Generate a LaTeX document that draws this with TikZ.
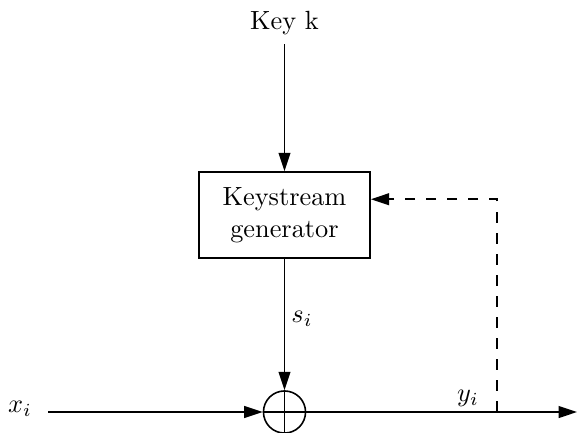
\documentclass[tikz,border=0pt]{standalone}
\usepackage{tikz}
\usetikzlibrary{positioning, arrows.meta}

\begin{document}
\begin{tikzpicture}[
    x=0.38pt, y=-0.38pt,
    block/.style={draw, semithick, minimum width=65pt, minimum height=32.7pt,
                  inner sep=0pt, align=center},
    adder/.style={draw, semithick, circle, minimum size=16pt, inner sep=0pt},
    arr/.style={-{Triangle[length=7pt, width=4.5pt]}, semithick},
    lbl/.style={inner sep=0pt},
]
\useasboundingbox (0,0) rectangle (577,432);

% Key input and generator
\node (key) at (284.5,23) {Key k};
\node[block] (gen) at (284.5,215) {Keystream\\generator};

% XOR stage
\node[adder] (xor) at (284.5,412) {};
\draw[semithick] (xor.north) -- (xor.south);
\draw[semithick] (xor.west) -- (xor.east);

\node[inner sep=6pt] (xin) at (20,409) {$x_i$};
\coordinate (tap) at (497,412);
\coordinate (out) at (577,412);

% labels
\node[lbl] (si) at (302,319) {$s_i$};
\node[lbl] (yi) at (468,398) {$y_i$};

\draw[arr] (key.south) -- (gen.north);
\draw[arr] (gen.south) -- (xor.north);
\draw[arr] (xin.east |- xor.west) -- (xor.west);
\draw[arr] (xor.east) -- (out);
\draw[arr, dash pattern=on 4pt off 4pt] (tap) |- ([yshift=6pt]gen.east);

\end{tikzpicture}
\end{document}
